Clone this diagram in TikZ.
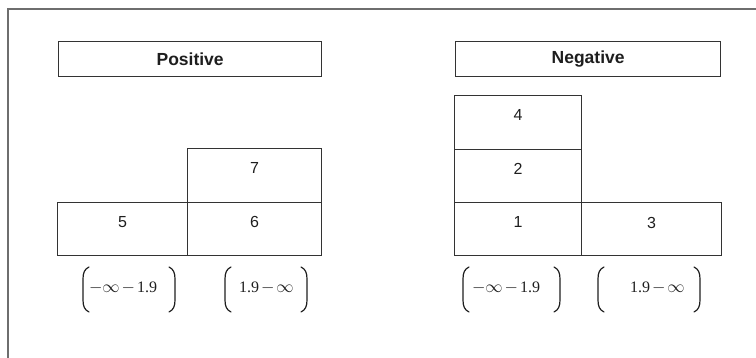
\documentclass[tikz,border=0pt]{standalone}
\usepackage{fontspec}
\setmainfont{Liberation Serif}
\newfontfamily\boxfont{Liberation Sans}
\definecolor{frameclr}{HTML}{6E6E6E}
\definecolor{lineclr}{HTML}{333333}
\definecolor{txtclr}{HTML}{1E1E1E}
\begin{document}
\begin{tikzpicture}[x=1pt,y=-1pt,
  frameline/.style={draw=frameclr,line width=1.8pt},
  headbox/.style={draw=lineclr,line width=1.3pt,anchor=north west,inner sep=0pt,
     text=txtclr,font=\boxfont\fontsize{17.5}{19}\selectfont\bfseries},
  cellbox/.style={draw=lineclr,line width=1.3pt,anchor=north west,inner sep=0pt,
     text=txtclr,font=\boxfont\fontsize{16}{18}\selectfont,text height=11.5pt,text depth=15pt},
  cellmid/.style={cellbox,text depth=12pt},
  intlabel/.style={inner sep=0pt,text=txtclr,font=\fontsize{16}{18}\selectfont},
  parenline/.style={draw=txtclr,line width=1.2pt,line cap=round},
  lparen/.pic={\draw[parenline] (6,0) .. controls (1.5,2) and (0,6) .. (0,12) -- (0,33) .. controls (0,39) and (1.5,43) .. (6,45);},
  rparen/.pic={\draw[parenline] (-6,0) .. controls (-1.5,2) and (0,6) .. (0,12) -- (0,33) .. controls (0,39) and (-1.5,43) .. (-6,45);}
]
\useasboundingbox (0,0) rectangle (756,358);
% frame (top and left edges)
\draw[frameline] (756,9) -- (8,9) -- (8,358);

% headers
\node[headbox,minimum width=263pt,minimum height=35pt] (pos) at (58,41) {Positive};
\node[headbox,minimum width=265pt,minimum height=35pt] (neg) at (455,41) {Negative};

% positive cells
\node[cellbox,minimum width=134pt,minimum height=54pt] (c7) at (187,148) {7};
\node[cellbox,minimum width=130pt,minimum height=53pt] (c5) at (57,202) {5};
\node[cellbox,minimum width=134pt,minimum height=53pt] (c6) at (187,202) {6};

% negative cells
\node[cellbox,minimum width=127pt,minimum height=54pt] (c4) at (454,95) {4};
\node[cellbox,minimum width=127pt,minimum height=53pt] (c2) at (454,149) {2};
\node[cellbox,minimum width=127pt,minimum height=53pt] (c1) at (454,202) {1};
\node[cellmid,minimum width=140pt,minimum height=53pt] (c3) at (581,202) {3};

% interval labels
\node[intlabel] (i1) at (123,288) {$-\infty\mskip2mu-\mskip2mu$1.9};
\node[intlabel] (i2) at (266.5,288) {1.9$\mskip2mu-\mskip2mu\infty$};
\node[intlabel] (i3) at (506,288) {$-\infty\mskip2mu-\mskip2mu$1.9};
\node[intlabel] (i4) at (657.5,288) {1.9$\mskip2mu-\mskip2mu\infty$};

% parentheses
\pic at (83,267) {lparen};
\pic at (175,267) {rparen};
\pic at (225,267) {lparen};
\pic at (307,267) {rparen};
\pic at (463,267) {lparen};
\pic at (560,267) {rparen};
\pic at (598,267) {lparen};
\pic at (700,267) {rparen};
\end{tikzpicture}
\end{document}
